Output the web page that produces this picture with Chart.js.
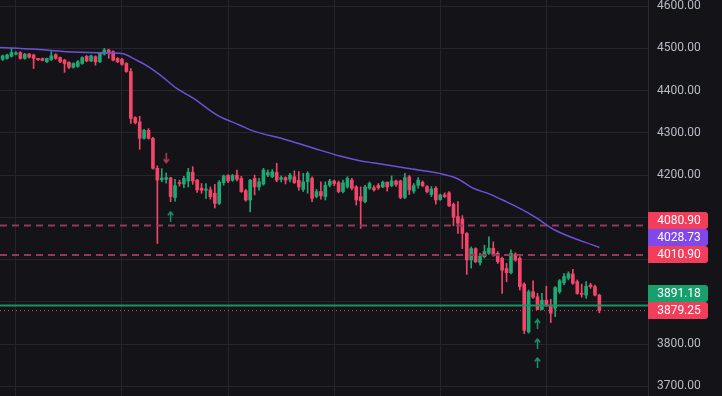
<!DOCTYPE html>
<html>
<head>
<meta charset="utf-8">
<script src="https://cdn.jsdelivr.net/npm/chart.js@4.4.1/dist/chart.umd.min.js"></script>
<style>
  html, body { margin: 0; padding: 0; background: #131318; }
  #wrap { width: 722px; height: 396px; }
</style>
</head>
<body>
<div id="wrap"><canvas id="grafico" width="722" height="396"></canvas></div>
<script>
// Velas (OHLC)
const opens = [4474,4476,4481,4486,4490,4476,4486,4484,4476,4476,4468,4473,4485,4478,4472,4467,4455,4457,4464,4481,
  4470,4480,4468,4486,4496,4492,4476,4474,4464,4445,4336,4326,4287,4306,4287,4216,4189,4190,4193,4147,
  4182,4179,4186,4207,4188,4169,4164,4165,4157,4133,4182,4199,4188,4200,4192,4163,4141,4192,4172,4179,
  4200,4196,4206,4190,4194,4190,4196,4188,4166,4184,4192,4149,4161,4149,4176,4186,4182,4161,4172,4188,
  4172,4149,4137,4169,4170,4176,4172,4183,4175,4186,4186,4147,4196,4162,4176,4183,4173,4154,4169,4142,
  4153,4158,4131,4102,4096,4062,3999,4026,3993,4007,4015,4027,4015,4003,3979,3969,4013,4003,3942,3829,
  3924,3912,3882,3904,3892,3885,3924,3945,3956,3966,3948,3920,3916,3940,3936,3916];
const highs = [4484,4486,4500,4492,4492,4488,4488,4486,4476,4477,4477,4492,4487,4479,4474,4468,4466,4471,4480,4483,
  4484,4482,4490,4500,4498,4494,4478,4476,4466,4452,4338,4339,4308,4310,4289,4222,4215,4205,4195,4190,
  4188,4197,4216,4220,4190,4180,4180,4172,4178,4187,4200,4201,4202,4212,4197,4166,4190,4200,4192,4216,
  4212,4213,4228,4198,4196,4204,4210,4208,4204,4208,4196,4166,4184,4184,4190,4188,4186,4188,4196,4192,
  4175,4172,4176,4184,4175,4180,4186,4184,4198,4188,4188,4204,4199,4180,4194,4186,4175,4173,4173,4155,
  4158,4161,4134,4137,4104,4064,4030,4028,4015,4034,4054,4042,4019,4006,3991,4023,4016,4007,3945,3928,
  3950,3920,3920,3937,3906,3936,3953,3967,3971,3977,3952,3942,3948,3944,3940,3918];
const lows = [4471,4474,4479,4484,4474,4474,4477,4452,4471,4470,4466,4471,4474,4466,4443,4452,4453,4455,4462,4468,
  4468,4460,4466,4484,4476,4470,4466,4460,4443,4322,4321,4261,4285,4285,4214,4038,4184,4181,4137,4138,
  4174,4170,4172,4178,4159,4157,4145,4143,4122,4130,4176,4182,4185,4186,4159,4138,4113,4153,4164,4176,
  4196,4194,4184,4184,4179,4184,4180,4164,4161,4157,4137,4146,4143,4141,4172,4175,4158,4158,4169,4165,
  4129,4074,4134,4166,4162,4166,4170,4162,4172,4173,4144,4144,4154,4157,4169,4172,4158,4149,4131,4140,
  4147,4125,4080,4062,4026,3965,3980,3993,3987,4004,4012,4008,3991,3920,3948,3966,3996,3928,3825,3826,
  3908,3881,3881,3889,3851,3865,3920,3940,3952,3941,3918,3911,3908,3932,3914,3874];
const closes = [4482,4484,4490,4489,4476,4486,4479,4476,4473,4471,4476,4482,4476,4468,4464,4455,4464,4468,4478,4470,
  4482,4468,4488,4496,4488,4472,4468,4462,4445,4334,4324,4287,4306,4287,4216,4188,4193,4194,4149,4175,
  4180,4192,4207,4186,4165,4164,4167,4149,4133,4183,4198,4186,4199,4190,4161,4141,4188,4172,4184,4212,
  4206,4208,4188,4194,4188,4200,4182,4172,4184,4204,4145,4161,4151,4176,4186,4180,4161,4182,4192,4169,
  4141,4139,4172,4180,4165,4170,4183,4172,4186,4178,4147,4194,4165,4175,4188,4175,4161,4167,4141,4153,
  4149,4127,4100,4086,4062,3999,4026,3995,4008,4019,4027,4011,3995,3975,3969,4015,3999,3936,3833,3924,
  3911,3882,3904,3892,3873,3934,3950,3960,3967,3944,3920,3918,3937,3936,3916,3879.25];

// Media movil (puntos leidos sobre la curva morada)
const maIdx = [-0.6, 6.9, 14.5, 22, 26.5, 28.1, 29.5, 32.6, 35.6, 39.4, 43.1, 48.5, 53.7, 56, 64.3, 71.8,
  76.3, 80.8, 83.8, 91.5, 98.9, 102.8, 106.4, 110.2, 114.1, 117, 120.4, 124.9, 135];
const maVals = [4502, 4498, 4492, 4489.5, 4488, 4484, 4476, 4459, 4437, 4405, 4382, 4342, 4318, 4307, 4283, 4259,
  4245, 4234, 4229, 4216, 4204, 4192, 4169, 4155, 4136, 4121, 4101, 4070, 4028.73];

// Niveles horizontales
const resistencias = [4080.90, 4010.90];
const precioLinea = 3891.18;

// Senales (flechas)
const flechasArribaIdx = [38, 121, 121, 121];
const flechasArribaVal = [4103, 3848, 3802, 3757];
const flechasAbajoIdx = [37];
const flechasAbajoVal = [4240];

// Ejes
const yTicks = [4600, 4500, 4400, 4300, 4200, 4100, 4000, 3900, 3800, 3700];
const xGrid = [3, 27, 51, 75, 99, 123];
const X_MIN = -0.6, X_MAX = 146;
const Y_MIN = 3677.3, Y_MAX = 4614.2;

const FONDO = "#131318";
const REJILLA = "#25252b";
const ROJO = "#f2456a";
const VERDE = "#1fa774";
const MORADO = "#6e50dc";

function flecha(color, haciaArriba) {
  const c = document.createElement("canvas");
  c.width = 7;
  c.height = 11;
  const ctx = c.getContext("2d");
  ctx.strokeStyle = color;
  ctx.lineWidth = 1.5;
  ctx.beginPath();
  if (haciaArriba) {
    ctx.moveTo(3.5, 1.5); ctx.lineTo(3.5, 11);
    ctx.moveTo(0.8, 4.5); ctx.lineTo(3.5, 1.2); ctx.lineTo(6.2, 4.5);
  } else {
    ctx.moveTo(3.5, 0); ctx.lineTo(3.5, 9.5);
    ctx.moveTo(0.8, 6.5); ctx.lineTo(3.5, 9.8); ctx.lineTo(6.2, 6.5);
  }
  ctx.stroke();
  return c;
}

const velas = opens.map((o, i) => i);
const colores = velas.map((i) => (closes[i] >= opens[i] ? VERDE : ROJO));

function lineaNivel(valor) {
  return [{ x: X_MIN, y: valor }, { x: X_MAX, y: valor }];
}

// Etiquetas en el eje derecho
const etiquetas = [
  { valor: resistencias[0], color: "#f23d5b" },
  { valor: maVals[maVals.length - 1], color: "#8048ec" },
  { valor: resistencias[1], color: "#f23d5b" },
  { valor: precioLinea, color: "#17a06c" },
  { valor: closes[closes.length - 1], color: "#f23d5b" },
];
const ALTO_ETQ = 17;

const pluginEtiquetas = {
  id: "etiquetas",
  beforeDraw(chart) {
    const ctx = chart.ctx;
    ctx.save();
    ctx.fillStyle = FONDO;
    ctx.fillRect(0, 0, chart.width, chart.height);
    ctx.restore();
  },
  afterLayout(chart) {
    const y = chart.scales.y;
    const cajas = etiquetas
      .map((e) => ({ ...e, py: y.getPixelForValue(e.valor) }))
      .sort((a, b) => b.py - a.py);
    for (let k = 1; k < cajas.length; k++) {
      cajas[k].py = Math.min(cajas[k].py, cajas[k - 1].py - ALTO_ETQ);
    }
    chart.$cajas = cajas;
    // ocultar las marcas tapadas por las etiquetas
    y.ticks.forEach((t) => {
      const p = y.getPixelForValue(t.value);
      if (cajas.some((c) => Math.abs(c.py - p) < ALTO_ETQ / 2 + 6)) t.label = "";
    });
  },
  afterDraw(chart) {
    const ctx = chart.ctx;
    const y = chart.scales.y;
    ctx.save();
    ctx.font = "12px Roboto";
    ctx.textAlign = "center";
    ctx.textBaseline = "middle";
    chart.$cajas.forEach((c) => {
      const x0 = y.left;
      const top = Math.round(c.py - ALTO_ETQ / 2);
      ctx.fillStyle = c.color;
      ctx.beginPath();
      ctx.roundRect(x0, top, 60, ALTO_ETQ, [0, 3, 3, 0]);
      ctx.fill();
      ctx.fillStyle = "#ffffff";
      ctx.fillText(c.valor.toFixed(2), x0 + 31, top + ALTO_ETQ / 2 + 0.5);
    });
    ctx.restore();
  },
};

const config = {
  type: "bar",
  data: {
    datasets: [
      {
        type: "line",
        data: maIdx.map((x, k) => ({ x: x, y: maVals[k] })),
        borderColor: MORADO,
        borderWidth: 1.5,
        pointRadius: 0,
        cubicInterpolationMode: "monotone",
        order: 0,
      },
      {
        type: "scatter",
        data: flechasArribaIdx.map((x, k) => ({ x: x, y: flechasArribaVal[k] })),
        pointStyle: flecha("#1c9466", true),
        order: 0,
      },
      {
        type: "scatter",
        data: flechasAbajoIdx.map((x, k) => ({ x: x, y: flechasAbajoVal[k] })),
        pointStyle: flecha("#c73a5c", false),
        order: 0,
      },
      {
        type: "line",
        data: lineaNivel(resistencias[0]),
        borderColor: "#93395c",
        borderWidth: 2,
        borderDash: [7, 5],
        pointRadius: 0,
        order: 1,
      },
      {
        type: "line",
        data: lineaNivel(resistencias[1]),
        borderColor: "#93395c",
        borderWidth: 2,
        borderDash: [7, 5],
        pointRadius: 0,
        order: 1,
      },
      {
        type: "line",
        data: lineaNivel(precioLinea),
        borderColor: "#1b9466",
        borderWidth: 2,
        pointRadius: 0,
        order: 1,
      },
      {
        type: "line",
        data: lineaNivel(closes[closes.length - 1]),
        borderColor: "#e0405e",
        borderWidth: 1,
        borderDash: [1, 3],
        pointRadius: 0,
        order: 1,
      },
      {
        // cuerpos
        data: velas.map((i) => ({ x: i, y: [opens[i], closes[i]] })),
        backgroundColor: colores,
        barThickness: 3,
        minBarLength: 1,
        grouped: false,
        order: 2,
      },
      {
        // mechas
        data: velas.map((i) => ({ x: i, y: [lows[i], highs[i]] })),
        backgroundColor: colores,
        barThickness: 1,
        grouped: false,
        order: 3,
      },
    ],
  },
  options: {
    responsive: false,
    animation: false,
    devicePixelRatio: 1,
    layout: { padding: 0, autoPadding: false },
    plugins: { legend: { display: false }, tooltip: { enabled: false } },
    scales: {
      x: {
        type: "linear",
        min: X_MIN,
        max: X_MAX,
        offset: false,
        grid: { color: REJILLA, offset: false, drawTicks: false },
        border: { display: false },
        ticks: { display: false },
        afterBuildTicks: (scale) => {
          scale.ticks = xGrid.map((v) => ({ value: v }));
        },
        afterFit: (scale) => {
          scale.height = 0;
          scale.paddingLeft = 0;
          scale.paddingRight = 0;
        },
      },
      y: {
        position: "right",
        min: Y_MIN,
        max: Y_MAX,
        grid: { color: REJILLA, drawTicks: false },
        border: { display: true, color: "#2a2a30" },
        ticks: {
          color: "#b9bcc4",
          padding: 9,
          font: { family: "Roboto", size: 12 },
          callback: (v) => Number(v).toFixed(2),
        },
        afterBuildTicks: (scale) => {
          scale.ticks = yTicks.map((v) => ({ value: v }));
        },
        afterFit: (scale) => {
          scale.width = 74;
          scale.paddingTop = 0;
          scale.paddingBottom = 0;
        },
      },
    },
  },
  plugins: [pluginEtiquetas],
};

const grafico = new Chart(document.getElementById("grafico"), config);
</script>
</body>
</html>
